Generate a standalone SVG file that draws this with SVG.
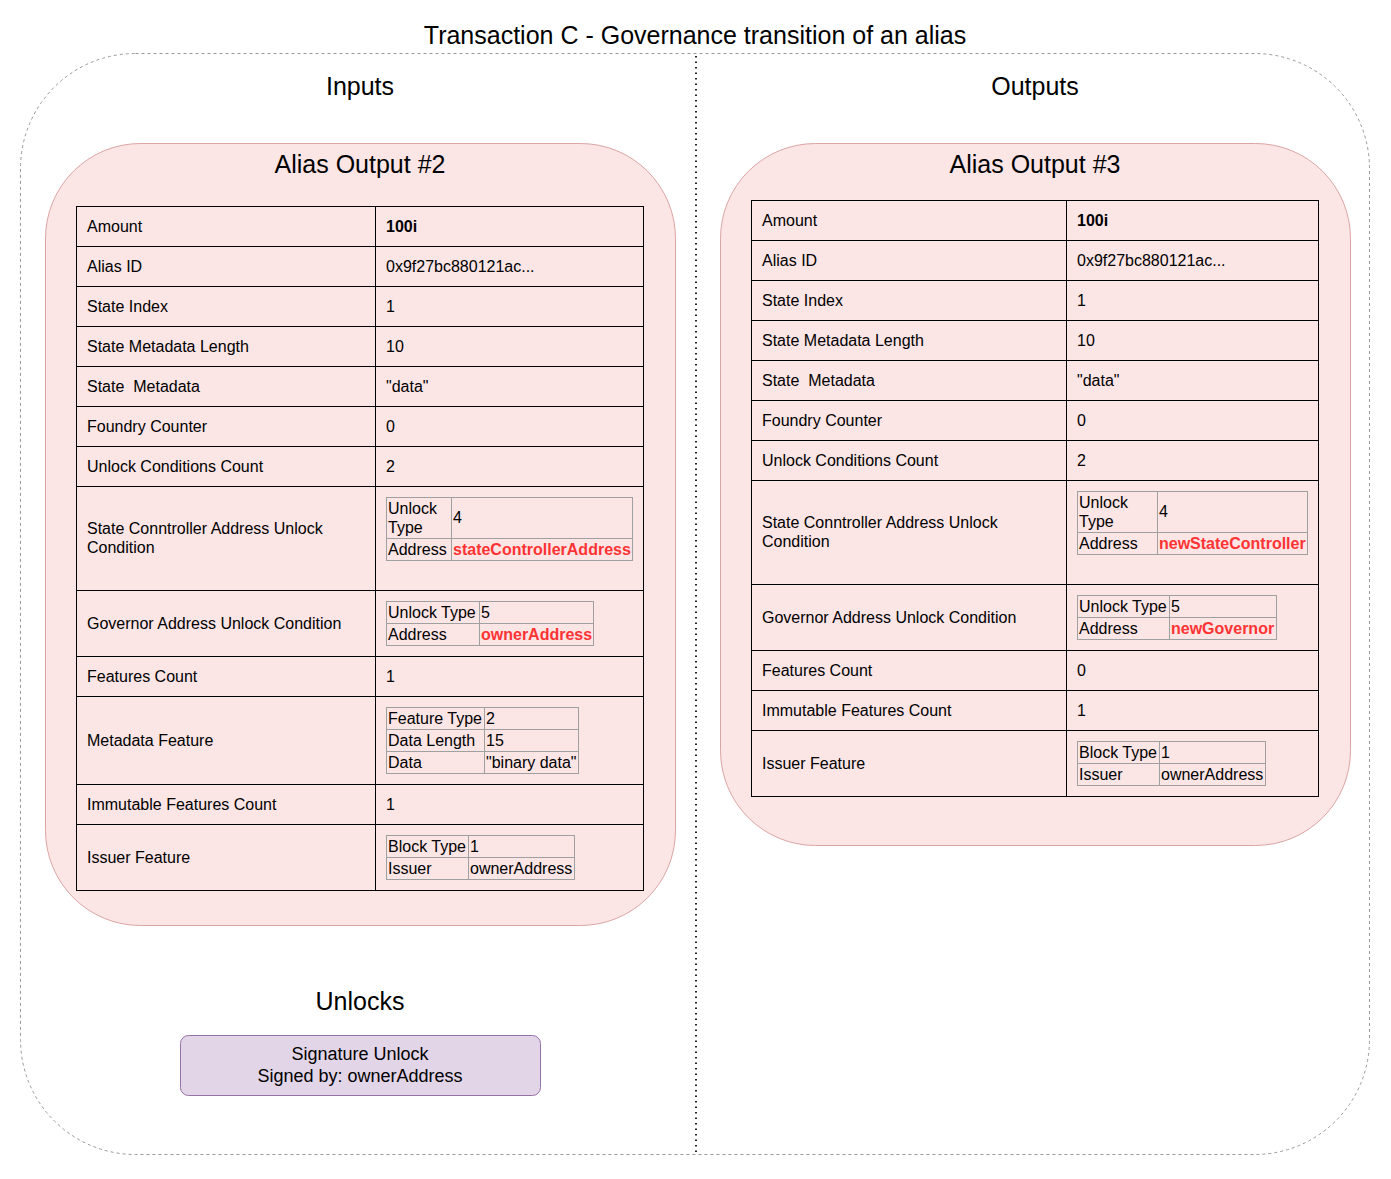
<svg xmlns="http://www.w3.org/2000/svg" width="1391" height="1179" viewBox="0 0 1391 1179">
<style>
text{font-family:"Liberation Sans",Arial,sans-serif;fill:#000}
.t{font-size:16px}
.h{font-size:25px;text-anchor:middle}
.b{font-weight:bold}
.r{font-weight:bold;fill:#ff3333}
.grid{stroke:#000;stroke-width:1;fill:none}
.ng{stroke:#a0a0a0;stroke-width:1;fill:none}
.card{fill:#fbe5e5;stroke:#dca5a5;stroke-width:1}
</style>
<rect width="1391" height="1179" fill="#fff"/>
<g id="frame">
<rect x="20.5" y="53.5" width="1349" height="1101" rx="115" ry="115" fill="none" stroke="#999" stroke-dasharray="3 3"/>
</g>
<g id="connectors">
<line x1="696" y1="56" x2="696" y2="1155" stroke="#222" stroke-width="2" stroke-dasharray="1.5 4"/>
</g>
<g id="titles">
<text class="h" x="695" y="44">Transaction C - Governance transition of an alias</text>
<text class="h" x="360" y="95">Inputs</text>
<text class="h" x="1035" y="95">Outputs</text>
<text class="h" x="360" y="1010">Unlocks</text>
</g>
<g id="alias-output-2">
<rect class="card" x="45.5" y="143.5" width="630" height="782" rx="95" ry="95"/>
<text class="h" x="360" y="173">Alias Output #2</text>
<rect class="grid" x="76.5" y="206.5" width="567" height="684"/>
<line class="grid" x1="375.5" y1="206" x2="375.5" y2="891"/>
<path class="grid" d="M76 246.5H644M76 286.5H644M76 326.5H644M76 366.5H644M76 406.5H644M76 446.5H644M76 486.5H644M76 590.5H644M76 656.5H644M76 696.5H644M76 784.5H644M76 824.5H644"/>
<g class="t">
<text x="87" y="232">Amount</text><text class="b" x="386" y="232">100i</text>
<text x="87" y="272">Alias ID</text><text x="386" y="272">0x9f27bc880121ac...</text>
<text x="87" y="312">State Index</text><text x="386" y="312">1</text>
<text x="87" y="352">State Metadata Length</text><text x="386" y="352">10</text>
<text x="87" y="392" xml:space="preserve">State  Metadata</text><text x="386" y="392">"data"</text>
<text x="87" y="432">Foundry Counter</text><text x="386" y="432">0</text>
<text x="87" y="472">Unlock Conditions Count</text><text x="386" y="472">2</text>
<text x="87" y="534">State Conntroller Address Unlock</text><text x="87" y="553">Condition</text>
<text x="87" y="629">Governor Address Unlock Condition</text>
<text x="87" y="682">Features Count</text><text x="386" y="682">1</text>
<text x="87" y="746">Metadata Feature</text>
<text x="87" y="810">Immutable Features Count</text><text x="386" y="810">1</text>
<text x="87" y="863">Issuer Feature</text>
</g>
<g id="in-state-ctrl">
<rect class="ng" x="386.5" y="497.5" width="246" height="63"/>
<path class="ng" d="M451.5 497V561M386 538.5H633"/>
<text class="t" x="388" y="514">Unlock</text><text class="t" x="388" y="533">Type</text>
<text class="t" x="453" y="523">4</text>
<text class="t" x="388" y="555">Address</text><text class="t r" x="453" y="555">stateControllerAddress</text>
</g>
<g id="in-governor">
<rect class="ng" x="386.5" y="601.5" width="207" height="44"/>
<path class="ng" d="M479.5 601V646M386 623.5H594"/>
<text class="t" x="388" y="618">Unlock Type</text><text class="t" x="481" y="618">5</text>
<text class="t" x="388" y="640">Address</text><text class="t r" x="481" y="640">ownerAddress</text>
</g>
<g id="in-metadata">
<rect class="ng" x="386.5" y="707.5" width="192" height="66"/>
<path class="ng" d="M484.5 707V774M386 729.5H579M386 751.5H579"/>
<text class="t" x="388" y="724">Feature Type</text><text class="t" x="486" y="724">2</text>
<text class="t" x="388" y="746">Data Length</text><text class="t" x="486" y="746">15</text>
<text class="t" x="388" y="768">Data</text><text class="t" x="486" y="768">"binary data"</text>
</g>
<g id="in-issuer">
<rect class="ng" x="386.5" y="835.5" width="188" height="44"/>
<path class="ng" d="M468.5 835V880M386 857.5H575"/>
<text class="t" x="388" y="852">Block Type</text><text class="t" x="470" y="852">1</text>
<text class="t" x="388" y="874">Issuer</text><text class="t" x="470" y="874">ownerAddress</text>
</g>
</g>
<g id="alias-output-3">
<rect class="card" x="720.5" y="143.5" width="630" height="702" rx="95" ry="95"/>
<text class="h" x="1035" y="173">Alias Output #3</text>
<rect class="grid" x="751.5" y="200.5" width="567" height="596"/>
<line class="grid" x1="1066.5" y1="200" x2="1066.5" y2="797"/>
<path class="grid" d="M751 240.5H1319M751 280.5H1319M751 320.5H1319M751 360.5H1319M751 400.5H1319M751 440.5H1319M751 480.5H1319M751 584.5H1319M751 650.5H1319M751 690.5H1319M751 730.5H1319"/>
<g class="t">
<text x="762" y="226">Amount</text><text class="b" x="1077" y="226">100i</text>
<text x="762" y="266">Alias ID</text><text x="1077" y="266">0x9f27bc880121ac...</text>
<text x="762" y="306">State Index</text><text x="1077" y="306">1</text>
<text x="762" y="346">State Metadata Length</text><text x="1077" y="346">10</text>
<text x="762" y="386" xml:space="preserve">State  Metadata</text><text x="1077" y="386">"data"</text>
<text x="762" y="426">Foundry Counter</text><text x="1077" y="426">0</text>
<text x="762" y="466">Unlock Conditions Count</text><text x="1077" y="466">2</text>
<text x="762" y="528">State Conntroller Address Unlock</text><text x="762" y="547">Condition</text>
<text x="762" y="623">Governor Address Unlock Condition</text>
<text x="762" y="676">Features Count</text><text x="1077" y="676">0</text>
<text x="762" y="716">Immutable Features Count</text><text x="1077" y="716">1</text>
<text x="762" y="769">Issuer Feature</text>
</g>
<g id="out-state-ctrl">
<rect class="ng" x="1077.5" y="491.5" width="230" height="63"/>
<path class="ng" d="M1157.5 491V555M1077 532.5H1308"/>
<text class="t" x="1079" y="508">Unlock</text><text class="t" x="1079" y="527">Type</text>
<text class="t" x="1159" y="517">4</text>
<text class="t" x="1079" y="549">Address</text><text class="t r" x="1159" y="549">newStateController</text>
</g>
<g id="out-governor">
<rect class="ng" x="1077.5" y="595.5" width="199" height="44"/>
<path class="ng" d="M1169.5 595V640M1077 617.5H1277"/>
<text class="t" x="1079" y="612">Unlock Type</text><text class="t" x="1171" y="612">5</text>
<text class="t" x="1079" y="634">Address</text><text class="t r" x="1171" y="634">newGovernor</text>
</g>
<g id="out-issuer">
<rect class="ng" x="1077.5" y="741.5" width="188" height="44"/>
<path class="ng" d="M1159.5 741V786M1077 763.5H1266"/>
<text class="t" x="1079" y="758">Block Type</text><text class="t" x="1161" y="758">1</text>
<text class="t" x="1079" y="780">Issuer</text><text class="t" x="1161" y="780">ownerAddress</text>
</g>
</g>
<g id="signature-unlock">
<rect x="180.5" y="1035.5" width="360" height="60" rx="8" ry="8" fill="#e1d5e7" stroke="#9673a6"/>
<text x="360" y="1060" font-size="18" text-anchor="middle">Signature Unlock</text>
<text x="360" y="1082" font-size="18" text-anchor="middle">Signed by: ownerAddress</text>
</g>
</svg>
